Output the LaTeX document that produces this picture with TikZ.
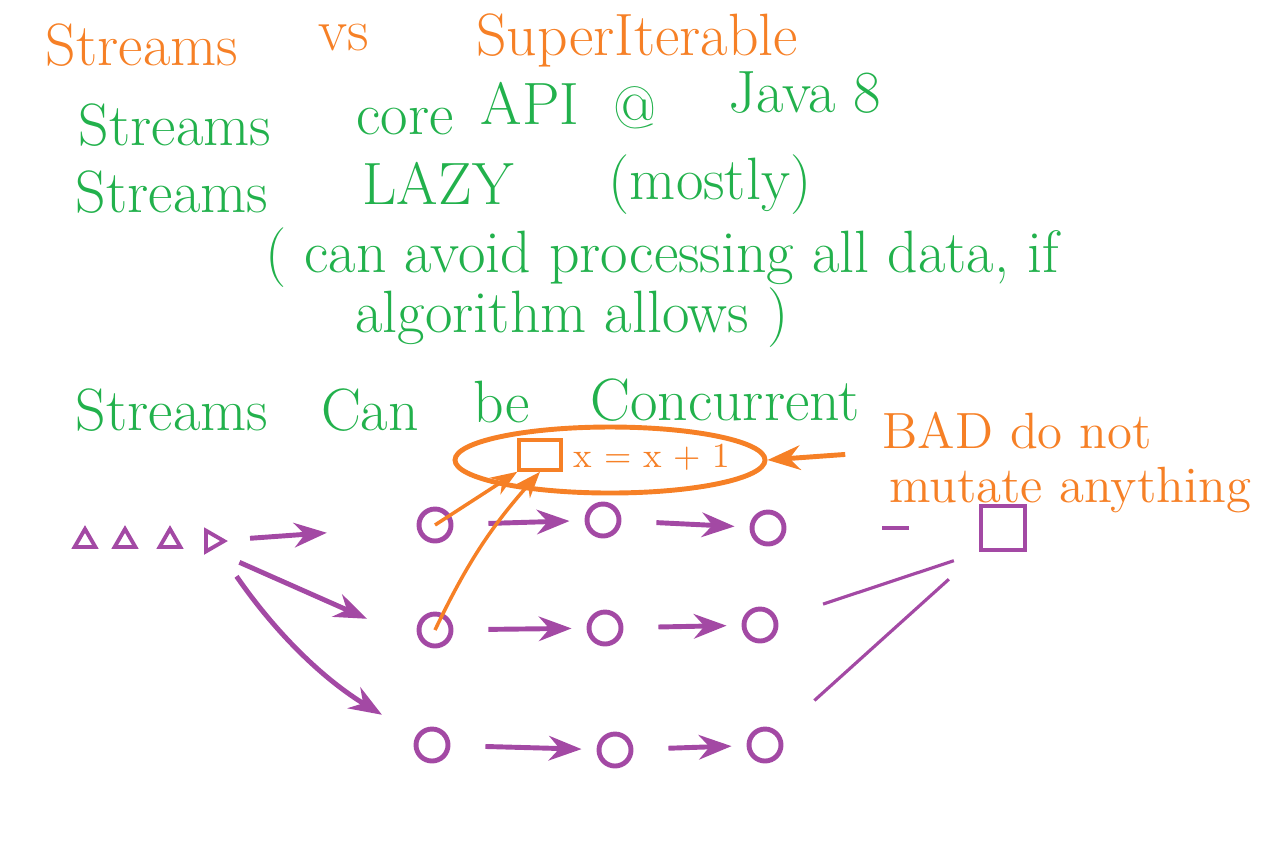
\documentclass[tikz,border=0pt]{standalone}
\usetikzlibrary{arrows.meta,shapes.geometric}
\definecolor{penorange}{RGB}{246,128,38}
\definecolor{pengreen}{RGB}{34,177,76}
\definecolor{penpurple}{RGB}{163,73,164}
\begin{document}
\begin{tikzpicture}[x=0.1mm,y=-0.1mm,line width=1.4pt,>=Stealth,
  orangetxt/.style={text=penorange,font=\fontsize{17}{19}\selectfont,inner sep=0pt},
  greentxt/.style={text=pengreen,font=\fontsize{17}{19}\selectfont,inner sep=0pt},
  elem/.style={draw=penpurple,circle,minimum size=3.2mm,inner sep=0pt},
  tri/.style={draw=penpurple,regular polygon,regular polygon sides=3,minimum size=2.4mm,inner sep=0pt,line width=1.1pt},
  flow/.style={->,draw=penpurple,shorten <=3.5mm,shorten >=1.5mm},
  linkline/.style={draw=penpurple,line width=0.9pt},
  penmark/.style={->,draw=penorange,line width=1pt}]
\useasboundingbox (0,0) rectangle (1264,847);
% ---------- heading ----------
\node[orangetxt] (h1) at (142,45) {Streams};
\node[orangetxt] (h2) at (344,38) {vs};
\node[orangetxt] (h3) at (637,40) {SuperIterable};
% ---------- notes ----------
\node[greentxt] (s1) at (175,125) {Streams};
\node[greentxt] (core) at (405,122) {core};
\node[greentxt] (api) at (530,103) {API};
\node[greentxt] (at) at (635,108) {@};
\node[greentxt] (java) at (805,93) {Java 8};
\node[greentxt] (s2) at (172,192) {Streams};
\node[greentxt] (lazy) at (438,183) {LAZY};
\node[greentxt] (mostly) at (710,185) {(mostly)};
\node[greentxt] (avoid) at (662,258) {( can avoid processing all data, if};
\node[greentxt] (algo) at (572,318) {algorithm allows )};
\node[greentxt] (s3) at (172,410) {Streams};
\node[greentxt] (can) at (370,410) {Can};
\node[greentxt] (be) at (502,402) {be};
\node[greentxt] (conc) at (725,400) {Concurrent};
% ---------- shared update ----------
\node[draw=penorange,ellipse,minimum width=31mm,minimum height=6.6mm] (upd) at (610,460) {};
\node[draw=penorange,line width=1pt,minimum width=4.2mm,minimum height=3mm,inner sep=0pt] (cell) at (540,455) {};
\node[orangetxt,font=\fontsize{10}{12}\selectfont] (inc) at (652,457) {x = x + 1};
\node[orangetxt,font=\fontsize{14.5}{16}\selectfont] (bad1) at (1017,431) {BAD do not};
\node[orangetxt,font=\fontsize{14.5}{16}\selectfont] (bad2) at (1070,490) {mutate anything};
\draw[penmark,line width=1.4pt,shorten <=3.5mm] (bad1.south west) -- (upd.east);
% ---------- source ----------
\node[tri] (t1) at (85,541) {};
\node[tri] (t2) at (125,541) {};
\node[tri] (t3) at (170,541) {};
\node[tri,shape border rotate=-90] (t4) at (212,541) {};
% ---------- three pipelines ----------
\node[elem] (c11) at (435,525) {};
\node[elem] (c12) at (603,520) {};
\node[elem] (c13) at (768,528) {};
\node[elem] (c21) at (435,630) {};
\node[elem] (c22) at (605,628) {};
\node[elem] (c23) at (760,625) {};
\node[elem] (c31) at (432,745) {};
\node[elem] (c32) at (615,750) {};
\node[elem] (c33) at (765,745) {};
\node[draw=penpurple,minimum width=4.4mm,minimum height=4.4mm,inner sep=0pt] (sink) at (1003,528) {};
\draw[flow,shorten <=2.4mm,shorten >=9mm] (t4) -- (c11);
\draw[flow,shorten <=3mm,shorten >=6mm] (t4.south) -- (c21.south west);
\draw[flow,shorten <=3.5mm,shorten >=4mm] (t4) to[bend right=12] (c31);
\foreach \r in {1,2,3}{
  \draw[flow] (c\r1) -- (c\r2);
  \draw[flow] (c\r2) -- (c\r3);
}
\draw[linkline,line width=1.4pt,shorten <=9.6mm,shorten >=7mm] (c13) -- (sink);
\draw[linkline,shorten <=4.8mm,shorten >=2.6mm] (c23) -- (sink.south west);
\draw[linkline,shorten <=4.8mm,shorten >=4mm] (c33) -- (sink.south west);
% ---------- racing writes ----------
\draw[penmark] (c11.center) -- (cell.south west);
\draw[penmark] (c21.center) to[bend left=8] (cell.south);
\end{tikzpicture}
\end{document}
